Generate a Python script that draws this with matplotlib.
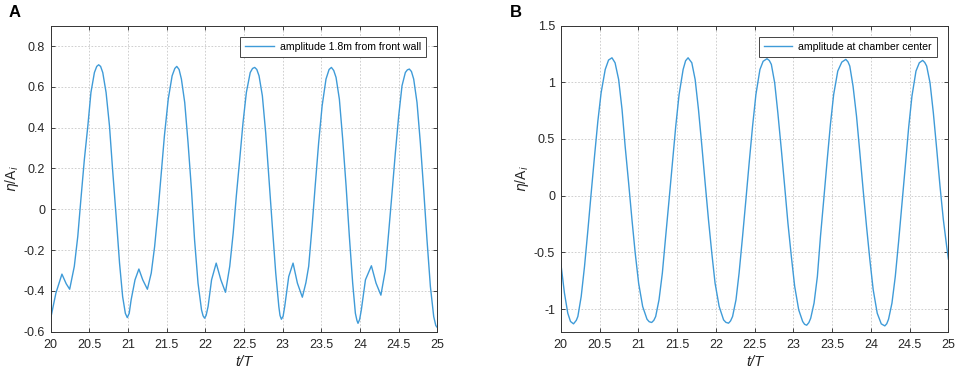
import matplotlib
matplotlib.use("Agg")
import matplotlib.pyplot as plt
from matplotlib.ticker import FormatStrFormatter

plt.rcParams['font.family'] = ['Liberation Sans', 'DejaVu Sans']
plt.rcParams['axes.unicode_minus'] = False

# panel A: amplitude 1.8m from front wall
t_a = [20.0, 20.067, 20.145, 20.20, 20.245, 20.305, 20.35, 20.39, 20.435, 20.48,
       20.52, 20.565, 20.595, 20.62, 20.645, 20.673, 20.716, 20.76, 20.80, 20.846,
       20.89, 20.93, 20.965, 20.99, 21.015, 21.04, 21.09, 21.14, 21.19, 21.25,
       21.30, 21.344, 21.39, 21.43, 21.47, 21.52, 21.57, 21.605, 21.63, 21.66,
       21.69, 21.733, 21.776, 21.82, 21.86, 21.905, 21.95, 21.97, 21.99, 22.01,
       22.035, 22.08, 22.14, 22.20, 22.26, 22.315, 22.36, 22.40, 22.444, 22.487,
       22.53, 22.58, 22.61, 22.638, 22.665, 22.694, 22.737, 22.78, 22.823, 22.866,
       22.91, 22.95, 22.965, 22.983, 23.005, 23.026, 23.078, 23.134, 23.19, 23.254,
       23.30, 23.336, 23.38, 23.42, 23.465, 23.51, 23.56, 23.60, 23.63, 23.66,
       23.69, 23.733, 23.776, 23.82, 23.862, 23.905, 23.94, 23.96, 23.974, 23.995,
       24.017, 24.07, 24.147, 24.207, 24.27, 24.328, 24.37, 24.414, 24.457, 24.5,
       24.543, 24.586, 24.612, 24.638, 24.665, 24.694, 24.737, 24.78, 24.823, 24.866,
       24.91, 24.953, 24.98, 25.0]
eta_a = [-0.534, -0.411, -0.318, -0.365, -0.392, -0.28, -0.133, 0.048, 0.244, 0.408,
         0.572, 0.670, 0.700, 0.708, 0.700, 0.670, 0.572, 0.408, 0.195, -0.034,
         -0.264, -0.428, -0.51, -0.531, -0.51, -0.444, -0.346, -0.293, -0.346, -0.392,
         -0.313, -0.182, 0.0, 0.179, 0.359, 0.54, 0.654, 0.69, 0.700, 0.685,
         0.638, 0.523, 0.326, 0.097, -0.149, -0.362, -0.493, -0.522, -0.534, -0.52,
         -0.477, -0.346, -0.264, -0.346, -0.407, -0.28, -0.116, 0.064, 0.244, 0.425,
         0.572, 0.67, 0.69, 0.695, 0.685, 0.654, 0.556, 0.375, 0.146, -0.084,
         -0.313, -0.477, -0.52, -0.539, -0.525, -0.477, -0.33, -0.264, -0.362, -0.431,
         -0.36, -0.28, -0.084, 0.113, 0.326, 0.507, 0.638, 0.685, 0.695, 0.68,
         0.646, 0.539, 0.343, 0.113, -0.133, -0.362, -0.51, -0.545, -0.559, -0.54,
         -0.493, -0.346, -0.277, -0.362, -0.421, -0.297, -0.116, 0.08, 0.277, 0.457,
         0.605, 0.67, 0.683, 0.687, 0.675, 0.638, 0.523, 0.326, 0.097, -0.149,
         -0.379, -0.526, -0.57, -0.58]

# panel B: amplitude at chamber center
t_b = [20.0, 20.047, 20.09, 20.125, 20.164, 20.2, 20.22, 20.263, 20.306, 20.35,
       20.392, 20.435, 20.478, 20.52, 20.573, 20.616, 20.66, 20.70, 20.746, 20.79,
       20.83, 20.875, 20.918, 20.96, 21.004, 21.056, 21.112, 21.14, 21.172, 21.20,
       21.224, 21.267, 21.31, 21.353, 21.397, 21.44, 21.483, 21.526, 21.578, 21.61,
       21.642, 21.69, 21.733, 21.776, 21.82, 21.862, 21.905, 21.948, 21.99, 22.043,
       22.1, 22.13, 22.164, 22.19, 22.216, 22.26, 22.30, 22.345, 22.388, 22.43,
       22.474, 22.517, 22.569, 22.61, 22.66, 22.69, 22.716, 22.759, 22.80, 22.845,
       22.888, 22.93, 22.974, 23.017, 23.069, 23.12, 23.145, 23.172, 23.2, 23.224,
       23.267, 23.31, 23.35, 23.392, 23.435, 23.478, 23.52, 23.573, 23.625, 23.677,
       23.705, 23.728, 23.77, 23.815, 23.858, 23.90, 23.944, 23.987, 24.03, 24.082,
       24.134, 24.18, 24.205, 24.228, 24.272, 24.315, 24.358, 24.40, 24.444, 24.487,
       24.53, 24.582, 24.625, 24.668, 24.695, 24.72, 24.763, 24.806, 24.85, 24.892,
       24.935, 24.978, 25.0]
eta_b = [-0.595, -0.86, -1.037, -1.11, -1.131, -1.10, -1.066, -0.89, -0.624, -0.30,
         0.024, 0.348, 0.657, 0.907, 1.113, 1.196, 1.216, 1.172, 1.025, 0.76,
         0.436, 0.112, -0.212, -0.507, -0.772, -0.978, -1.09, -1.112, -1.119, -1.10,
         -1.066, -0.919, -0.683, -0.359, -0.035, 0.289, 0.613, 0.892, 1.113, 1.19,
         1.216, 1.172, 1.025, 0.76, 0.436, 0.112, -0.212, -0.507, -0.772, -0.978,
         -1.096, -1.118, -1.125, -1.105, -1.066, -0.919, -0.683, -0.359, -0.035, 0.289,
         0.613, 0.892, 1.113, 1.185, 1.208, 1.192, 1.158, 0.996, 0.73, 0.406,
         0.082, -0.242, -0.536, -0.80, -1.007, -1.11, -1.135, -1.143, -1.12, -1.081,
         -0.948, -0.713, -0.359, -0.035, 0.303, 0.627, 0.892, 1.099, 1.178, 1.202,
         1.18, 1.143, 0.966, 0.70, 0.377, 0.053, -0.271, -0.566, -0.83, -1.037,
         -1.131, -1.149, -1.13, -1.09, -0.948, -0.713, -0.404, -0.08, 0.259, 0.598,
         0.878, 1.099, 1.172, 1.193, 1.175, 1.143, 0.996, 0.73, 0.406, 0.082,
         -0.212, -0.448, -0.56]

x_ticks = [20, 20.5, 21, 21.5, 22, 22.5, 23, 23.5, 24, 24.5, 25]
y_ticks_a = [-0.6, -0.4, -0.2, 0, 0.2, 0.4, 0.6, 0.8]
y_ticks_b = [-1, -0.5, 0, 0.5, 1, 1.5]

LINE_COLOR = '#3f9bd8'
TEXT_COLOR = '#262626'


def style_axes(ax, yticks, ylim):
    ax.set_xlim(20, 25)
    ax.set_ylim(*ylim)
    ax.set_xticks(x_ticks)
    ax.set_yticks(yticks)
    ax.xaxis.set_major_formatter(FormatStrFormatter('%g'))
    ax.yaxis.set_major_formatter(FormatStrFormatter('%g'))
    ax.tick_params(direction='in', length=3, width=0.6, top=True, right=True,
                   labelsize=9, colors=TEXT_COLOR)
    ax.tick_params(axis='x', pad=5)
    ax.tick_params(axis='y', pad=4)
    ax.grid(True, color='#c8c8c8', linestyle=(0, (2, 2)), linewidth=0.6)
    for sp in ax.spines.values():
        sp.set_color('#333333')
        sp.set_linewidth(0.7)
    ax.set_xlabel('t/T', fontsize=10.5, style='italic', color=TEXT_COLOR, labelpad=3)
    ax.set_ylabel(r'$\eta$/A$_i$', fontsize=10, color=TEXT_COLOR, labelpad=2)


fig = plt.figure(figsize=(9.57, 3.71), dpi=100)
ax1 = fig.add_axes([0.053, 0.106, 0.404, 0.825])
ax2 = fig.add_axes([0.586, 0.106, 0.405, 0.825])

ax1.plot(t_a, eta_a, color=LINE_COLOR, linewidth=1.0, solid_joinstyle='round',
         label='amplitude 1.8m from front wall')
style_axes(ax1, y_ticks_a, (-0.6, 0.9))

ax2.plot(t_b, eta_b, color=LINE_COLOR, linewidth=1.0, solid_joinstyle='round',
         label='amplitude at chamber center')
style_axes(ax2, y_ticks_b, (-1.2, 1.5))

for ax in (ax1, ax2):
    leg = ax.legend(loc='upper right', fontsize=7.6, fancybox=False, framealpha=1,
                    edgecolor='#444444', handlelength=2.7, borderpad=0.45,
                    borderaxespad=1.1, handletextpad=0.6)
    leg.get_frame().set_linewidth(0.7)

fig.text(0.009, 0.965, 'A', fontsize=12, fontweight='bold', va='center')
fig.text(0.533, 0.965, 'B', fontsize=12, fontweight='bold', va='center')

fig.savefig('out.png', dpi=100)
